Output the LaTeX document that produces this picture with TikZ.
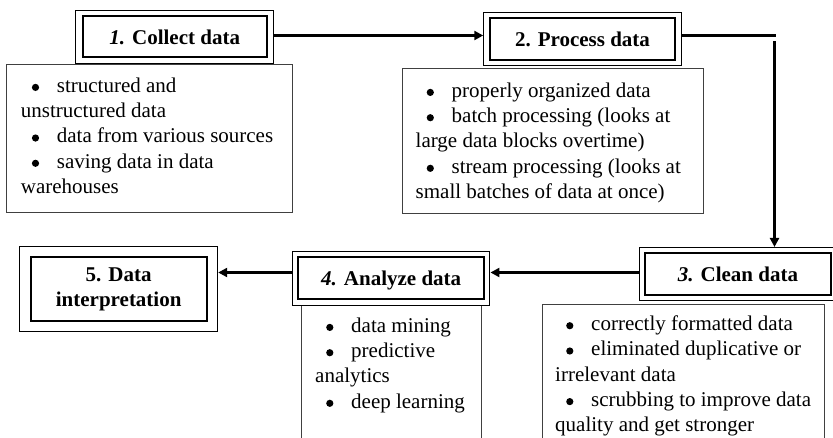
\documentclass[tikz,border=0pt]{standalone}
\usepackage{fontspec}
\setmainfont{LiberationSerif}[Extension=.ttf,UprightFont=*-Regular,BoldFont=*-Bold,ItalicFont=*-Italic,BoldItalicFont=*-BoldItalic]
\usetikzlibrary{arrows.meta}
\newcommand{\myb}{\hspace*{11pt}\makebox[25pt][l]{\tikz[baseline=-4.7pt]\fill (0,0) circle (3.6pt);}}
\newcommand{\titlefnt}{\fontsize{21}{25}\selectfont\bfseries}
\newcommand{\descfnt}{\fontsize{21}{25.3}\selectfont}
\begin{document}
\begin{tikzpicture}[x=1pt,y=-1pt,
  outerbox/.style={draw, line width=1pt, fill=white, minimum width=197.5pt, minimum height=53.5pt, inner sep=0pt},
  innerbox/.style={draw, line width=2pt, fill=white, minimum width=185pt, minimum height=42pt, inner sep=0pt, font=\titlefnt, text height=14.5pt, text depth=0pt},
  descbox/.style={draw=black!75, line width=1pt, inner sep=0pt},
  desctext/.style={anchor=north west, inner sep=0pt, align=left, font=\descfnt},
  conn/.style={line width=2.5pt},
  arr/.style={line width=2.5pt, -{Triangle[length=9pt,width=9pt]}}]
\useasboundingbox (0,0) rectangle (833,438);
\clip (0,0) rectangle (833,438);

% description boxes
\node[descbox, minimum width=286pt, minimum height=147.3pt] (D1) at (149.7,138.65) {};
\node[descbox, minimum width=300.6pt, minimum height=145pt] (D2) at (553,140.8) {};
\node[descbox, minimum width=282.3pt, minimum height=155.7pt] (D3) at (683.15,382.15) {};
\node[descbox, minimum width=179.3pt, minimum height=155pt] (D4) at (391.35,382.5) {};

\node[desctext] (T1) at (20.7,74.2) {\strut\myb structured and\\\strut unstructured data\\\strut\myb data from various sources\\\strut\myb saving data in data\\\strut warehouses};
\node[desctext] (T2) at (415.5,79.2) {\strut\myb properly organized data\\\strut\myb batch processing (looks at\\\strut large data blocks overtime)\\\strut\myb stream processing (looks at\\\strut small batches of data at once)};
\node[desctext] (T3) at (555,312.5) {\strut\myb correctly formatted data\\\strut\myb eliminated duplicative or\\\strut irrelevant data\\\strut\myb scrubbing to improve data\\\strut quality and get stronger};
\node[desctext] (T4) at (315,314.2) {\strut\myb data mining\\\strut\myb predictive\\\strut analytics\\\strut\myb deep learning};

% title boxes
\node[outerbox] (O1) at (174.7,37) {};
\node[innerbox, minimum width=184pt, minimum height=41pt] (B1) at (174.7,37) {\textit{1.} Collect data};
\node[outerbox] (O2) at (582.5,39) {};
\node[innerbox] (B2) at (582.5,39) {2. Process data};
\node[outerbox] (O3) at (738,274.2) {};
\node[innerbox, minimum width=186pt] (B3) at (738,274.2) {\textit{3.} Clean data};
\node[outerbox] (O4) at (391.2,278.3) {};
\node[innerbox, minimum width=186pt] (B4) at (391.2,278.3) {\textit{4.} Analyze data};
\node[outerbox, minimum width=198pt, minimum height=85pt] (O5) at (118.7,289.3) {};
\node[innerbox, minimum width=176pt, minimum height=64.4pt, align=center, text height=, text depth=] (B5) at (118.7,289.3) {5. Data\\interpretation};

% connectors
\coordinate (ya) at (0,35.5);
\coordinate (yb) at (0,272.5);
\coordinate (c1) at (774.5,35.5);
\coordinate (c2) at (774.5,41.5);
\draw[arr] (O1.east |- ya) -- (O2.west |- ya);
\draw[conn] (O2.east |- ya) -- ([xshift=1.25pt]c1);
\draw[arr] (c2) -- (c2 |- O3.north);
\draw[arr] (O3.west |- yb) -- (O4.east |- yb);
\draw[arr] (O4.west |- yb) -- (O5.east |- yb);
\end{tikzpicture}
\end{document}
